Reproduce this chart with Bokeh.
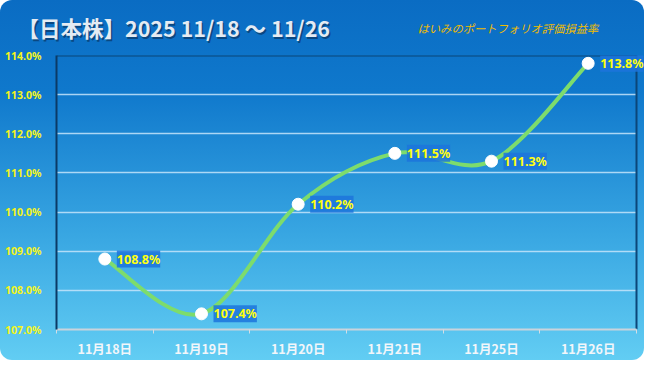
from bokeh.plotting import figure
from bokeh.layouts import column
from bokeh.models import (Range1d, FixedTicker, PrintfTickFormatter, ColumnDataSource,
                          LabelSet, Label)
from bokeh.core.properties import value
from bokeh.embed import file_html
from bokeh.resources import INLINE

categories = ["11月18日", "11月19日", "11月20日", "11月21日", "11月25日", "11月26日"]
values = [108.8, 107.4, 110.2, 111.5, 111.3, 113.8]
y_ticks = [107, 108, 109, 110, 111, 112, 113, 114]
title_text = "【日本株】2025 11/18 〜 11/26"
subtitle_text = "はいみのポートフォリオ評価損益率"

n = len(categories)
xs = list(range(n))
x_lo, x_hi = -0.5, n - 0.5
y_lo, y_hi = y_ticks[0], y_ticks[-1]

# Excel-like smoothed line: cubic Bezier segments built from the data
ext = [values[0]] + values + [values[-1]]
extx = [xs[0]] + xs + [xs[-1]]
seg = dict(x0=[], y0=[], x1=[], y1=[], cx0=[], cy0=[], cx1=[], cy1=[])
for i in range(n - 1):
    p0x, p0y = extx[i], ext[i]
    p1x, p1y = extx[i + 1], ext[i + 1]
    p2x, p2y = extx[i + 2], ext[i + 2]
    p3x, p3y = extx[i + 3], ext[i + 3]
    seg["x0"].append(p1x); seg["y0"].append(p1y)
    seg["x1"].append(p2x); seg["y1"].append(p2y)
    seg["cx0"].append(p1x + (p2x - p0x) / 6); seg["cy0"].append(p1y + (p2y - p0y) / 6)
    seg["cx1"].append(p2x - (p3x - p1x) / 6); seg["cy1"].append(p2y - (p3y - p1y) / 6)

W = 644
HEAD_H = 45

# ---------- header (title texts) ----------
head = figure(width=W, height=HEAD_H, output_backend="svg", toolbar_location=None,
              x_range=Range1d(0, W), y_range=Range1d(0, HEAD_H),
              x_axis_location=None, y_axis_location=None,
              min_border_left=0, min_border_right=0, min_border_top=0, min_border_bottom=0)
head.frame_align = False
head.grid.visible = False
head.outline_line_color = None
head.border_fill_color = None
head.background_fill_color = None
for dx, dy, col, a in [(1.5, -1.5, "#0a3a6a", 0.75), (0, 0, "#e4ebf3", 1.0)]:
    head.add_layout(Label(x=17, y=HEAD_H - 27, text=title_text, x_offset=dx, y_offset=dy,
                          text_baseline="middle", text_color=col, text_alpha=a,
                          text_font="Noto Sans CJK JP", text_font_style="bold",
                          text_font_size="21.5px"))
head.add_layout(Label(x=417, y=HEAD_H - 27, text=subtitle_text, text_baseline="middle",
                      text_color="#f0bc00", text_font="Noto Sans CJK JP",
                      text_font_style="italic", text_font_size="11.3px"))

# ---------- chart ----------
px_per_x = 580 / (x_hi - x_lo)
p = figure(width=W, height=360 - HEAD_H, output_backend="svg", toolbar_location=None,
           x_range=Range1d(x_lo, x_hi + 8 / px_per_x),
           y_range=Range1d(y_lo, y_hi),
           min_border_left=56, min_border_right=0, min_border_top=10, min_border_bottom=30)
p.frame_align = False
p.border_fill_color = None
p.background_fill_color = None
p.outline_line_color = None

# grid
p.xgrid.grid_line_color = None
p.ygrid.ticker = FixedTicker(ticks=y_ticks)
p.ygrid.grid_line_color = "#c6e4fa"
p.ygrid.grid_line_alpha = 0.85
p.ygrid.grid_line_width = 1.5
p.ygrid.cross_bounds = (x_lo, x_hi)

# plot-area border (top and right), derived from the axis ranges
p.segment(x0=[x_lo, x_hi], y0=[y_hi, y_lo], x1=[x_hi, x_hi], y1=[y_hi, y_hi],
          line_color="#0b4679", line_width=2)

# y axis
p.yaxis.ticker = FixedTicker(ticks=y_ticks)
p.yaxis.bounds = (y_lo, y_hi)
p.yaxis.formatter = PrintfTickFormatter(format="%.1f%%")
p.yaxis.axis_line_color = "#0b3a66"
p.yaxis.axis_line_width = 2
p.yaxis.major_tick_line_color = None
p.yaxis.minor_tick_line_color = None
p.yaxis.major_label_text_color = "#f5f51a"
p.yaxis.major_label_text_font = "Noto Sans"
p.yaxis.major_label_text_font_style = "bold"
p.yaxis.major_label_text_font_size = "10.5px"
p.yaxis.major_label_standoff = 9

# x axis
p.xaxis.ticker = FixedTicker(ticks=xs, minor_ticks=[x - 0.5 for x in xs] + [n - 0.5])
p.xaxis.bounds = (x_lo, x_hi)
p.xaxis.major_label_overrides = {i: c for i, c in enumerate(categories)}
p.xaxis.axis_line_color = "#c9d3dc"
p.xaxis.axis_line_width = 2
p.xaxis.major_tick_line_color = None
p.xaxis.minor_tick_line_color = "#d5dde4"
p.xaxis.minor_tick_out = 4
p.xaxis.minor_tick_in = 0
p.xaxis.major_label_text_color = "#f2f6fa"
p.xaxis.major_label_text_font = "Noto Sans CJK JP"
p.xaxis.major_label_text_font_style = "bold"
p.xaxis.major_label_text_font_size = "12.5px"
p.xaxis.major_label_standoff = 3

# smoothed line and markers
p.bezier(x0="x0", y0="y0", x1="x1", y1="y1", cx0="cx0", cy0="cy0", cx1="cx1", cy1="cy1",
         source=ColumnDataSource(seg), line_color="#7ddc6c", line_width=4)
src = ColumnDataSource(dict(x=xs, y=values, lab=[f"{v:.1f}%" for v in values]))
p.scatter("x", "y", source=src, size=12, fill_color="white", line_color="white")

labels = LabelSet(x="x", y="y", text="lab", source=src, x_offset=12, y_offset=0,
                  text_baseline="middle", text_color="#ffff10", text_font=value("Noto Sans"),
                  text_font_style="bold", text_font_size="12.5px",
                  background_fill_color="#1c74dc", background_fill_alpha=0.85)
p.add_layout(labels)

layout = column(head, p, spacing=0)
layout.styles = {"background": "linear-gradient(to bottom, #0a6cc3 0%, #0f78cc 25%, #38a6e2 65%, #62cdf3 100%)",
                 "border-radius": "12px", "overflow": "hidden"}

open("out.html", "w").write(file_html(layout, INLINE))
